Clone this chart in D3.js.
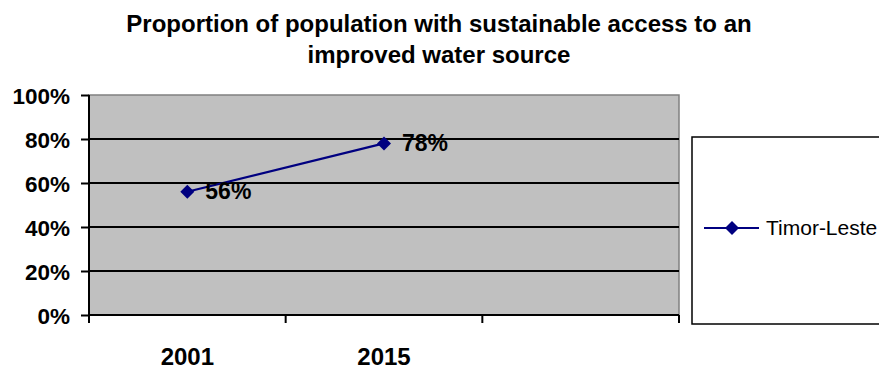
<!DOCTYPE html>
<html lang="en">
<head>
<meta charset="utf-8">
<title>Proportion of population with sustainable access to an improved water source</title>
<script src="https://d3js.org/d3.v7.min.js"></script>
<style>
  body { margin: 0; background: #fff; }
  svg { display: block; font-family: "Liberation Sans", Arial, sans-serif; }
  .title { font-size: 24px; font-weight: bold; }
  .yaxis text { font-size: 22.5px; font-weight: bold; fill: #000; }
  .xaxis text { font-size: 24px; font-weight: bold; fill: #000; }
  .dlabel { font-size: 23px; font-weight: bold; }
  .legend text { font-size: 21px; }
</style>
</head>
<body>
<div id="chart"></div>
<script>

// data
var categories = ["2001", "2015", ""];
var values = [0.56, 0.78];
var seriesName = "Timor-Leste";
var yTicks = [0, 0.2, 0.4, 0.6, 0.8, 1];
var titleLines = ["Proportion of population with sustainable access to an", "improved water source"];

var width = 879, height = 369;
var plot = {left: 89, right: 679, top: 95, bottom: 315};
var navy = "#000080";

var svg = d3.select("#chart")
  .append("svg")
    .attr("width", width)
    .attr("height", height);

// title
svg.append("text")
  .attr("class", "title")
  .attr("text-anchor", "middle")
  .selectAll("tspan")
  .data(titleLines)
  .enter()
  .append("tspan")
    .attr("x", 439)
    .attr("y", function(d, i) { return 32 + i * 31; })
    .text(function(d) { return d; });

var x = d3.scaleBand()
  .domain(categories)
  .range([plot.left, plot.right]);

var y = d3.scaleLinear()
  .domain([0, 1])
  .range([plot.bottom, plot.top]);

// plot area
svg.append("rect")
  .attr("x", plot.left)
  .attr("y", plot.top)
  .attr("width", plot.right - plot.left)
  .attr("height", plot.bottom - plot.top)
  .style("fill", "#c0c0c0")
  .style("stroke", "#808080")
  .style("stroke-width", 1.5);

// gridlines
svg.selectAll("line.grid")
  .data(yTicks.filter(function(d) { return d > 0 && d < 1; }))
  .enter()
  .append("line")
    .attr("class", "grid")
    .attr("x1", plot.left)
    .attr("x2", plot.right)
    .attr("y1", function(d) { return y(d); })
    .attr("y2", function(d) { return y(d); })
    .style("stroke", "#000")
    .style("stroke-width", 2);

// y axis
var yAxis = svg.append("g")
  .attr("class", "yaxis")
  .attr("transform", "translate(" + plot.left + ",0)")
  .call(d3.axisLeft(y).tickValues(yTicks).tickFormat(d3.format(".0%")).tickSize(8).tickPadding(11));
yAxis.select(".domain").style("stroke", "#000").style("stroke-width", 2).attr("d", "M0," + plot.top + "V" + (plot.bottom + 8));
yAxis.selectAll(".tick line").style("stroke", "#000").style("stroke-width", 2);
yAxis.selectAll(".tick text").attr("dy", "0.36em");

// x axis: labels centred in bands, ticks on band edges
var xAxis = svg.append("g")
  .attr("class", "xaxis")
  .attr("transform", "translate(0," + plot.bottom + ")")
  .call(d3.axisBottom(x).tickSize(0).tickPadding(0));
xAxis.select(".domain").remove();
xAxis.selectAll(".tick text").attr("y", 50).attr("dy", 0);

var edges = categories.map(function(c) { return x(c); }).concat([x.range()[1]]);
xAxis.selectAll("line.edge")
  .data(edges)
  .enter()
  .append("line")
    .attr("class", "edge")
    .attr("x1", function(d) { return d; })
    .attr("x2", function(d) { return d; })
    .attr("y1", 0)
    .attr("y2", 8)
    .style("stroke", "#000")
    .style("stroke-width", 2);
xAxis.append("line")
  .attr("x1", plot.left)
  .attr("x2", plot.right)
  .style("stroke", "#000")
  .style("stroke-width", 2);

// series
var pts = values.map(function(v, i) { return {cat: categories[i], value: v}; });
var cx = function(d) { return x(d.cat) + x.bandwidth() / 2; };

svg.append("path")
  .datum(pts)
  .attr("d", d3.line().x(cx).y(function(d) { return y(d.value); }))
  .style("fill", "none")
  .style("stroke", navy)
  .style("stroke-width", 2.2);

var diamond = d3.symbol().type(d3.symbolDiamond2).size(125);

svg.selectAll("path.marker")
  .data(pts)
  .enter()
  .append("path")
    .attr("class", "marker")
    .attr("d", diamond)
    .attr("transform", function(d) { return "translate(" + cx(d) + "," + y(d.value) + ")"; })
    .style("fill", navy);

svg.selectAll("text.dlabel")
  .data(pts)
  .enter()
  .append("text")
    .attr("class", "dlabel")
    .attr("x", function(d) { return cx(d) + 18; })
    .attr("y", function(d) { return y(d.value) + 7.5; })
    .text(function(d) { return d3.format(".0%")(d.value); });

// legend
var legend = svg.append("g").attr("class", "legend");
legend.append("rect")
  .attr("x", 692)
  .attr("y", 137)
  .attr("width", 200)
  .attr("height", 187)
  .style("fill", "#fff")
  .style("stroke", "#000")
  .style("stroke-width", 1.5);
legend.append("line")
  .attr("x1", 704)
  .attr("x2", 759)
  .attr("y1", 228)
  .attr("y2", 228)
  .style("stroke", navy)
  .style("stroke-width", 2);
legend.append("path")
  .attr("d", diamond)
  .attr("transform", "translate(732,228)")
  .style("fill", navy);
legend.append("text")
  .attr("x", 766)
  .attr("y", 235)
  .text(seriesName);

</script>
</body>
</html>
